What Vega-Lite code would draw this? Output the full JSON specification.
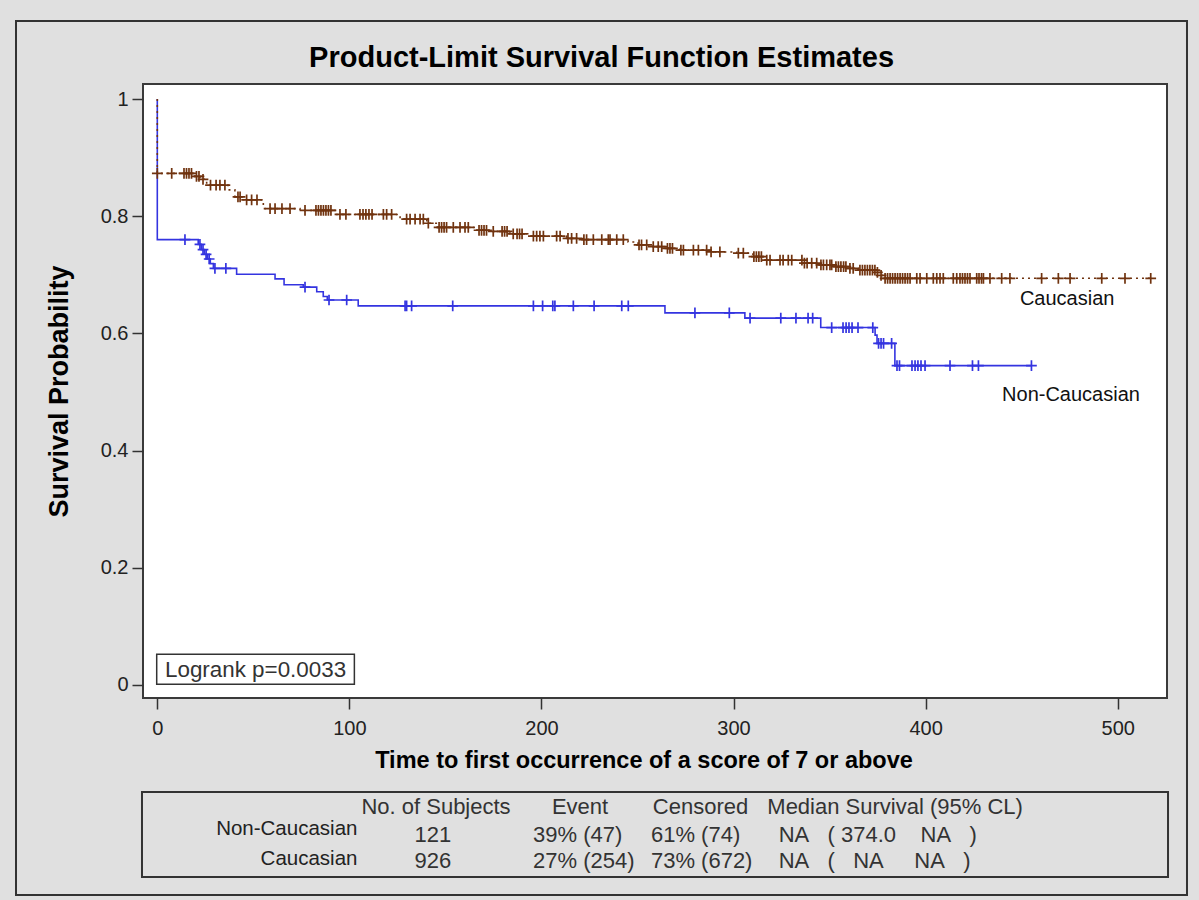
{
"$schema": "https://vega.github.io/schema/vega-lite/v6.json",
"width": 1024, "height": 614,
"autosize": {"type": "none"},
"padding": {"left": 143, "top": 84, "right": 32, "bottom": 202},
"background": "#e0e0e0",
"datasets": {
"curve": [
{"group":"Non-Caucasian","time":0,"survival":1.0},{"group":"Non-Caucasian","time":0,"survival":0.760},{"group":"Non-Caucasian","time":21.3,"survival":0.752},{"group":"Non-Caucasian","time":22.9,"survival":0.743},{"group":"Non-Caucasian","time":24.5,"survival":0.735},{"group":"Non-Caucasian","time":26.1,"survival":0.727},{"group":"Non-Caucasian","time":27.6,"survival":0.719},{"group":"Non-Caucasian","time":29.2,"survival":0.711},{"group":"Non-Caucasian","time":41.3,"survival":0.701},{"group":"Non-Caucasian","time":61.3,"survival":0.693},{"group":"Non-Caucasian","time":66.0,"survival":0.683},{"group":"Non-Caucasian","time":76.0,"survival":0.679},{"group":"Non-Caucasian","time":83.0,"survival":0.671},{"group":"Non-Caucasian","time":86.4,"survival":0.663},{"group":"Non-Caucasian","time":88.5,"survival":0.657},{"group":"Non-Caucasian","time":104.6,"survival":0.647},{"group":"Non-Caucasian","time":264.3,"survival":0.635},{"group":"Non-Caucasian","time":305.9,"survival":0.626},{"group":"Non-Caucasian","time":345.4,"survival":0.610},{"group":"Non-Caucasian","time":373.7,"survival":0.597},{"group":"Non-Caucasian","time":374.7,"survival":0.583},{"group":"Non-Caucasian","time":384.0,"survival":0.545},{"group":"Non-Caucasian","time":455.1,"survival":0.545},
{"group":"Caucasian","time":0,"survival":1.0},{"group":"Caucasian","time":0,"survival":0.873},{"group":"Caucasian","time":19.6,"survival":0.868},{"group":"Caucasian","time":22.2,"survival":0.863},{"group":"Caucasian","time":25.7,"survival":0.853},{"group":"Caucasian","time":36.8,"survival":0.845},{"group":"Caucasian","time":40.4,"survival":0.833},{"group":"Caucasian","time":43.9,"survival":0.828},{"group":"Caucasian","time":55.2,"survival":0.813},{"group":"Caucasian","time":74.3,"survival":0.810},{"group":"Caucasian","time":92.5,"survival":0.803},{"group":"Caucasian","time":126.4,"survival":0.795},{"group":"Caucasian","time":140.3,"survival":0.788},{"group":"Caucasian","time":146.1,"survival":0.781},{"group":"Caucasian","time":166.3,"survival":0.776},{"group":"Caucasian","time":174.8,"survival":0.774},{"group":"Caucasian","time":183.6,"survival":0.770},{"group":"Caucasian","time":194.0,"survival":0.766},{"group":"Caucasian","time":213.1,"survival":0.762},{"group":"Caucasian","time":221.6,"survival":0.760},{"group":"Caucasian","time":245.1,"survival":0.756},{"group":"Caucasian","time":250.3,"survival":0.751},{"group":"Caucasian","time":258.1,"survival":0.748},{"group":"Caucasian","time":265.2,"survival":0.745},{"group":"Caucasian","time":272.1,"survival":0.742},{"group":"Caucasian","time":287.8,"survival":0.739},{"group":"Caucasian","time":301.6,"survival":0.737},{"group":"Caucasian","time":310.1,"survival":0.731},{"group":"Caucasian","time":315.3,"survival":0.725},{"group":"Caucasian","time":336.2,"survival":0.720},{"group":"Caucasian","time":345.0,"survival":0.717},{"group":"Caucasian","time":352.8,"survival":0.714},{"group":"Caucasian","time":358.9,"survival":0.711},{"group":"Caucasian","time":364.9,"survival":0.708},{"group":"Caucasian","time":374.5,"survival":0.704},{"group":"Caucasian","time":376.3,"survival":0.699},{"group":"Caucasian","time":377.8,"survival":0.694},{"group":"Caucasian","time":517.2,"survival":0.694}
],
"censor": [
{"group":"Non-Caucasian","time":14.4,"survival":0.760},{"group":"Non-Caucasian","time":22.2,"survival":0.752},{"group":"Non-Caucasian","time":23.8,"survival":0.743},{"group":"Non-Caucasian","time":25.4,"survival":0.735},{"group":"Non-Caucasian","time":27.0,"survival":0.727},{"group":"Non-Caucasian","time":30.0,"survival":0.711},{"group":"Non-Caucasian","time":35.7,"survival":0.711},{"group":"Non-Caucasian","time":76.9,"survival":0.679},{"group":"Non-Caucasian","time":89.4,"survival":0.657},{"group":"Non-Caucasian","time":98.6,"survival":0.657},{"group":"Non-Caucasian","time":129.0,"survival":0.647},{"group":"Non-Caucasian","time":129.8,"survival":0.647},{"group":"Non-Caucasian","time":132.4,"survival":0.647},{"group":"Non-Caucasian","time":153.8,"survival":0.647},{"group":"Non-Caucasian","time":195.8,"survival":0.647},{"group":"Non-Caucasian","time":200.6,"survival":0.647},{"group":"Non-Caucasian","time":205.9,"survival":0.647},{"group":"Non-Caucasian","time":207.0,"survival":0.647},{"group":"Non-Caucasian","time":216.6,"survival":0.647},{"group":"Non-Caucasian","time":227.4,"survival":0.647},{"group":"Non-Caucasian","time":241.8,"survival":0.647},{"group":"Non-Caucasian","time":245.2,"survival":0.647},{"group":"Non-Caucasian","time":279.9,"survival":0.635},{"group":"Non-Caucasian","time":297.8,"survival":0.635},{"group":"Non-Caucasian","time":308.6,"survival":0.626},{"group":"Non-Caucasian","time":324.6,"survival":0.626},{"group":"Non-Caucasian","time":332.5,"survival":0.626},{"group":"Non-Caucasian","time":338.8,"survival":0.626},{"group":"Non-Caucasian","time":341.2,"survival":0.626},{"group":"Non-Caucasian","time":351.1,"survival":0.610},{"group":"Non-Caucasian","time":357.0,"survival":0.610},{"group":"Non-Caucasian","time":358.6,"survival":0.610},{"group":"Non-Caucasian","time":360.1,"survival":0.610},{"group":"Non-Caucasian","time":361.7,"survival":0.610},{"group":"Non-Caucasian","time":364.8,"survival":0.610},{"group":"Non-Caucasian","time":372.5,"survival":0.610},{"group":"Non-Caucasian","time":375.5,"survival":0.583},{"group":"Non-Caucasian","time":376.8,"survival":0.583},{"group":"Non-Caucasian","time":378.1,"survival":0.583},{"group":"Non-Caucasian","time":382.3,"survival":0.583},{"group":"Non-Caucasian","time":385.1,"survival":0.545},{"group":"Non-Caucasian","time":386.4,"survival":0.545},{"group":"Non-Caucasian","time":392.9,"survival":0.545},{"group":"Non-Caucasian","time":394.5,"survival":0.545},{"group":"Non-Caucasian","time":396.0,"survival":0.545},{"group":"Non-Caucasian","time":397.6,"survival":0.545},{"group":"Non-Caucasian","time":399.7,"survival":0.545},{"group":"Non-Caucasian","time":412.7,"survival":0.545},{"group":"Non-Caucasian","time":424.4,"survival":0.545},{"group":"Non-Caucasian","time":427.5,"survival":0.545},{"group":"Non-Caucasian","time":455.1,"survival":0.545},
{"group":"Caucasian","time":0,"survival":0.873},{"group":"Caucasian","time":7.5,"survival":0.873},{"group":"Caucasian","time":13.9,"survival":0.873},{"group":"Caucasian","time":15.2,"survival":0.873},{"group":"Caucasian","time":16.5,"survival":0.873},{"group":"Caucasian","time":17.8,"survival":0.873},{"group":"Caucasian","time":20.4,"survival":0.868},{"group":"Caucasian","time":21.7,"survival":0.868},{"group":"Caucasian","time":23.8,"survival":0.863},{"group":"Caucasian","time":27.7,"survival":0.853},{"group":"Caucasian","time":30.6,"survival":0.853},{"group":"Caucasian","time":32.6,"survival":0.853},{"group":"Caucasian","time":35.2,"survival":0.853},{"group":"Caucasian","time":42.0,"survival":0.833},{"group":"Caucasian","time":43.1,"survival":0.833},{"group":"Caucasian","time":46.5,"survival":0.828},{"group":"Caucasian","time":49.1,"survival":0.828},{"group":"Caucasian","time":51.9,"survival":0.828},{"group":"Caucasian","time":58.7,"survival":0.813},{"group":"Caucasian","time":61.3,"survival":0.813},{"group":"Caucasian","time":64.9,"survival":0.813},{"group":"Caucasian","time":69.1,"survival":0.813},{"group":"Caucasian","time":76.9,"survival":0.810},{"group":"Caucasian","time":82.6,"survival":0.810},{"group":"Caucasian","time":83.9,"survival":0.810},{"group":"Caucasian","time":85.2,"survival":0.810},{"group":"Caucasian","time":86.5,"survival":0.810},{"group":"Caucasian","time":87.8,"survival":0.810},{"group":"Caucasian","time":89.1,"survival":0.810},{"group":"Caucasian","time":90.4,"survival":0.810},{"group":"Caucasian","time":95.1,"survival":0.803},{"group":"Caucasian","time":98.2,"survival":0.803},{"group":"Caucasian","time":105.5,"survival":0.803},{"group":"Caucasian","time":107.1,"survival":0.803},{"group":"Caucasian","time":108.6,"survival":0.803},{"group":"Caucasian","time":110.2,"survival":0.803},{"group":"Caucasian","time":111.8,"survival":0.803},{"group":"Caucasian","time":117.7,"survival":0.803},{"group":"Caucasian","time":119.4,"survival":0.803},{"group":"Caucasian","time":122.0,"survival":0.803},{"group":"Caucasian","time":129.8,"survival":0.795},{"group":"Caucasian","time":131.6,"survival":0.795},{"group":"Caucasian","time":134.2,"survival":0.795},{"group":"Caucasian","time":136.8,"survival":0.795},{"group":"Caucasian","time":138.5,"survival":0.795},{"group":"Caucasian","time":141.1,"survival":0.788},{"group":"Caucasian","time":146.7,"survival":0.781},{"group":"Caucasian","time":148.0,"survival":0.781},{"group":"Caucasian","time":149.3,"survival":0.781},{"group":"Caucasian","time":150.6,"survival":0.781},{"group":"Caucasian","time":154.1,"survival":0.781},{"group":"Caucasian","time":157.6,"survival":0.781},{"group":"Caucasian","time":160.2,"survival":0.781},{"group":"Caucasian","time":161.9,"survival":0.781},{"group":"Caucasian","time":167.5,"survival":0.776},{"group":"Caucasian","time":168.8,"survival":0.776},{"group":"Caucasian","time":170.1,"survival":0.776},{"group":"Caucasian","time":171.4,"survival":0.776},{"group":"Caucasian","time":174.9,"survival":0.774},{"group":"Caucasian","time":179.5,"survival":0.774},{"group":"Caucasian","time":180.8,"survival":0.774},{"group":"Caucasian","time":182.1,"survival":0.774},{"group":"Caucasian","time":185.3,"survival":0.770},{"group":"Caucasian","time":187.3,"survival":0.770},{"group":"Caucasian","time":188.6,"survival":0.770},{"group":"Caucasian","time":189.9,"survival":0.770},{"group":"Caucasian","time":195.8,"survival":0.766},{"group":"Caucasian","time":197.5,"survival":0.766},{"group":"Caucasian","time":199.2,"survival":0.766},{"group":"Caucasian","time":201.0,"survival":0.766},{"group":"Caucasian","time":207.9,"survival":0.766},{"group":"Caucasian","time":209.7,"survival":0.766},{"group":"Caucasian","time":213.8,"survival":0.762},{"group":"Caucasian","time":215.7,"survival":0.762},{"group":"Caucasian","time":218.3,"survival":0.762},{"group":"Caucasian","time":222.1,"survival":0.760},{"group":"Caucasian","time":223.5,"survival":0.760},{"group":"Caucasian","time":227.0,"survival":0.760},{"group":"Caucasian","time":231.4,"survival":0.760},{"group":"Caucasian","time":234.8,"survival":0.760},{"group":"Caucasian","time":235.7,"survival":0.760},{"group":"Caucasian","time":239.2,"survival":0.760},{"group":"Caucasian","time":242.6,"survival":0.760},{"group":"Caucasian","time":250.8,"survival":0.751},{"group":"Caucasian","time":252.1,"survival":0.751},{"group":"Caucasian","time":254.8,"survival":0.751},{"group":"Caucasian","time":258.2,"survival":0.748},{"group":"Caucasian","time":260.8,"survival":0.748},{"group":"Caucasian","time":262.6,"survival":0.748},{"group":"Caucasian","time":265.6,"survival":0.745},{"group":"Caucasian","time":266.9,"survival":0.745},{"group":"Caucasian","time":268.2,"survival":0.745},{"group":"Caucasian","time":272.6,"survival":0.742},{"group":"Caucasian","time":273.9,"survival":0.742},{"group":"Caucasian","time":279.1,"survival":0.742},{"group":"Caucasian","time":281.7,"survival":0.742},{"group":"Caucasian","time":286.0,"survival":0.742},{"group":"Caucasian","time":288.3,"survival":0.739},{"group":"Caucasian","time":292.9,"survival":0.739},{"group":"Caucasian","time":302.5,"survival":0.737},{"group":"Caucasian","time":305.1,"survival":0.737},{"group":"Caucasian","time":310.6,"survival":0.731},{"group":"Caucasian","time":311.9,"survival":0.731},{"group":"Caucasian","time":313.2,"survival":0.731},{"group":"Caucasian","time":314.5,"survival":0.731},{"group":"Caucasian","time":317.3,"survival":0.725},{"group":"Caucasian","time":319.0,"survival":0.725},{"group":"Caucasian","time":324.2,"survival":0.725},{"group":"Caucasian","time":325.8,"survival":0.725},{"group":"Caucasian","time":328.5,"survival":0.725},{"group":"Caucasian","time":330.3,"survival":0.725},{"group":"Caucasian","time":335.6,"survival":0.725},{"group":"Caucasian","time":336.9,"survival":0.720},{"group":"Caucasian","time":338.3,"survival":0.720},{"group":"Caucasian","time":340.7,"survival":0.720},{"group":"Caucasian","time":343.3,"survival":0.720},{"group":"Caucasian","time":345.5,"survival":0.717},{"group":"Caucasian","time":346.8,"survival":0.717},{"group":"Caucasian","time":348.5,"survival":0.717},{"group":"Caucasian","time":350.2,"survival":0.717},{"group":"Caucasian","time":351.1,"survival":0.717},{"group":"Caucasian","time":353.3,"survival":0.714},{"group":"Caucasian","time":354.6,"survival":0.714},{"group":"Caucasian","time":355.9,"survival":0.714},{"group":"Caucasian","time":357.3,"survival":0.714},{"group":"Caucasian","time":358.5,"survival":0.714},{"group":"Caucasian","time":360.6,"survival":0.711},{"group":"Caucasian","time":362.3,"survival":0.711},{"group":"Caucasian","time":365.8,"survival":0.708},{"group":"Caucasian","time":367.1,"survival":0.708},{"group":"Caucasian","time":368.4,"survival":0.708},{"group":"Caucasian","time":369.7,"survival":0.708},{"group":"Caucasian","time":371.0,"survival":0.708},{"group":"Caucasian","time":372.3,"survival":0.708},{"group":"Caucasian","time":373.6,"survival":0.708},{"group":"Caucasian","time":374.9,"survival":0.704},{"group":"Caucasian","time":376.8,"survival":0.699},{"group":"Caucasian","time":378.9,"survival":0.694},{"group":"Caucasian","time":380.2,"survival":0.694},{"group":"Caucasian","time":381.5,"survival":0.694},{"group":"Caucasian","time":382.8,"survival":0.694},{"group":"Caucasian","time":384.1,"survival":0.694},{"group":"Caucasian","time":385.4,"survival":0.694},{"group":"Caucasian","time":386.7,"survival":0.694},{"group":"Caucasian","time":388.0,"survival":0.694},{"group":"Caucasian","time":389.3,"survival":0.694},{"group":"Caucasian","time":390.6,"survival":0.694},{"group":"Caucasian","time":391.9,"survival":0.694},{"group":"Caucasian","time":395.4,"survival":0.694},{"group":"Caucasian","time":397.1,"survival":0.694},{"group":"Caucasian","time":400.6,"survival":0.694},{"group":"Caucasian","time":404.0,"survival":0.694},{"group":"Caucasian","time":405.8,"survival":0.694},{"group":"Caucasian","time":407.5,"survival":0.694},{"group":"Caucasian","time":409.2,"survival":0.694},{"group":"Caucasian","time":414.4,"survival":0.694},{"group":"Caucasian","time":416.2,"survival":0.694},{"group":"Caucasian","time":417.9,"survival":0.694},{"group":"Caucasian","time":419.2,"survival":0.694},{"group":"Caucasian","time":420.5,"survival":0.694},{"group":"Caucasian","time":421.8,"survival":0.694},{"group":"Caucasian","time":423.1,"survival":0.694},{"group":"Caucasian","time":426.6,"survival":0.694},{"group":"Caucasian","time":427.8,"survival":0.694},{"group":"Caucasian","time":429.1,"survival":0.694},{"group":"Caucasian","time":430.1,"survival":0.694},{"group":"Caucasian","time":433.5,"survival":0.694},{"group":"Caucasian","time":439.6,"survival":0.694},{"group":"Caucasian","time":443.9,"survival":0.694},{"group":"Caucasian","time":460.4,"survival":0.694},{"group":"Caucasian","time":469.1,"survival":0.694},{"group":"Caucasian","time":475.2,"survival":0.694},{"group":"Caucasian","time":491.7,"survival":0.694},{"group":"Caucasian","time":503.8,"survival":0.694},{"group":"Caucasian","time":517.2,"survival":0.694}
],
"table": [
{"row":"header","label":"","subjects":"No. of Subjects","event":"Event","censored":"Censored","median":"Median Survival (95% CL)"},
{"row":"Non-Caucasian","label":"Non-Caucasian","subjects":"121","event":"39% (47)","censored":"61% (74)","median":"NA\u00a0\u00a0\u00a0(\u00a0374.0\u00a0\u00a0\u00a0\u00a0NA\u00a0\u00a0\u00a0)"},
{"row":"Caucasian","label":"Caucasian","subjects":"926","event":"27% (254)","censored":"73% (672)","median":"NA\u00a0\u00a0\u00a0(\u00a0\u00a0\u00a0NA\u00a0\u00a0\u00a0\u00a0\u00a0NA\u00a0\u00a0\u00a0)"}
]
},
"layer": [
 {"data": {"name": "curve"}, "mark": {"type": "line", "interpolate": "step-after", "strokeWidth": 1.6},
  "encoding": {
   "x": {"field": "time", "type": "quantitative", "scale": {"domain": [-7.445, 525.67], "nice": false, "zero": false},
     "axis": {"values": [0, 100, 200, 300, 400, 500], "title": "Time to first occurrence of a score of 7 or above", "titleX": 500.5}},
   "y": {"field": "survival", "type": "quantitative", "scale": {"domain": [-0.0222, 1.0256], "nice": false, "zero": false},
     "axis": {"values": [0, 0.2, 0.4, 0.6, 0.8, 1], "format": "~g", "title": "Survival Probability"}},
   "color": {"field": "group", "type": "nominal", "scale": {"domain": ["Non-Caucasian", "Caucasian"], "range": ["#3434e0", "#70330f"]}, "legend": null},
   "strokeDash": {"field": "group", "type": "nominal", "scale": {"domain": ["Non-Caucasian", "Caucasian"], "range": [[1, 0], [2, 4]]}, "legend": null},
   "order": {"value": null}}},
 {"data": {"name": "censor"}, "mark": {"type": "point", "shape": "M-1,0L1,0M0,-1L0,1", "filled": false, "strokeWidth": 1.7, "size": 115, "opacity": 1},
  "encoding": {
   "x": {"field": "time", "type": "quantitative"},
   "y": {"field": "survival", "type": "quantitative"},
   "color": {"field": "group", "type": "nominal", "scale": {"domain": ["Non-Caucasian", "Caucasian"], "range": ["#3434e0", "#70330f"]}, "legend": null}}},
 {"data": {"values": [{}]}, "mark": {"type": "rect", "filled": false, "color": "#333", "strokeWidth": 2},
  "encoding": {"x": {"datum": -73.56, "type": "quantitative"}, "x2": {"datum": 536.08},
   "y": {"datum": 1.1331, "type": "quantitative"}, "y2": {"datum": -0.3584}}},
 {"data": {"values": [{}]}, "mark": {"type": "rect", "filled": false, "color": "#333", "strokeWidth": 2},
  "encoding": {"x": {"datum": -7.97, "type": "quantitative"}, "x2": {"datum": 526.2},
   "y": {"datum": -0.1826, "type": "quantitative"}, "y2": {"datum": -0.3276}}},
 {"data": {"values": [{"heading": "Product-Limit Survival Function Estimates"}]}, "mark": {"type": "text", "align": "center", "baseline": "alphabetic", "fontSize": 29, "fontWeight": "bold", "font": "Liberation Sans", "color": "#000"},
  "encoding": {"x": {"datum": 231.3, "type": "quantitative"}, "y": {"datum": 1.0546, "type": "quantitative"}, "text": {"field": "heading"}}},
 {"data": {"values": [{"group": "Caucasian"}]}, "mark": {"type": "text", "align": "left", "baseline": "middle", "fontSize": 20, "font": "Liberation Sans", "color": "#111"},
  "encoding": {"x": {"datum": 449.1, "type": "quantitative"}, "y": {"datum": 0.6587, "type": "quantitative"}, "text": {"field": "group"}}},
 {"data": {"values": [{"group": "Non-Caucasian"}]}, "mark": {"type": "text", "align": "left", "baseline": "middle", "fontSize": 20, "font": "Liberation Sans", "color": "#111"},
  "encoding": {"x": {"datum": 439.8, "type": "quantitative"}, "y": {"datum": 0.4949, "type": "quantitative"}, "text": {"field": "group"}}},
 {"data": {"values": [{}]}, "mark": {"type": "rect", "filled": false, "color": "#333", "strokeWidth": 1.5},
  "encoding": {"x": {"datum": -0.31, "type": "quantitative"}, "x2": {"datum": 102.6},
   "y": {"datum": 0.0524, "type": "quantitative"}, "y2": {"datum": 0.0012}}},
 {"data": {"values": [{"statistic": "Logrank p=0.0033"}]}, "mark": {"type": "text", "align": "left", "baseline": "middle", "fontSize": 22.4, "font": "Liberation Sans", "color": "#333"},
  "encoding": {"x": {"datum": 4.0, "type": "quantitative"}, "y": {"datum": 0.0256, "type": "quantitative"}, "text": {"field": "statistic"}}},
 {"data": {"name": "table"}, "transform": [{"filter": "datum.row === 'Non-Caucasian'"}], "mark": {"type": "text", "align": "right", "baseline": "middle", "fontSize": 20.5, "font": "Liberation Sans", "color": "#222"},
  "encoding": {"x": {"datum": 104.2, "type": "quantitative"}, "y": {"datum": -0.2457, "type": "quantitative"}, "text": {"field": "label"}}},
 {"data": {"name": "table"}, "transform": [{"filter": "datum.row === 'Caucasian'"}], "mark": {"type": "text", "align": "right", "baseline": "middle", "fontSize": 20.5, "font": "Liberation Sans", "color": "#222"},
  "encoding": {"x": {"datum": 104.2, "type": "quantitative"}, "y": {"datum": -0.2969, "type": "quantitative"}, "text": {"field": "label"}}},
 {"data": {"name": "table"}, "transform": [{"filter": "datum.row === 'header'"}], "mark": {"type": "text", "align": "center", "baseline": "middle", "fontSize": 22, "font": "Liberation Sans", "color": "#333"},
  "encoding": {"x": {"datum": 145.1, "type": "quantitative"}, "y": {"datum": -0.2082, "type": "quantitative"}, "text": {"field": "subjects"}}},
 {"data": {"name": "table"}, "transform": [{"filter": "datum.row === 'Non-Caucasian'"}], "mark": {"type": "text", "align": "center", "baseline": "middle", "fontSize": 22, "font": "Liberation Sans", "color": "#333"},
  "encoding": {"x": {"datum": 143.5, "type": "quantitative"}, "y": {"datum": -0.2560, "type": "quantitative"}, "text": {"field": "subjects"}}},
 {"data": {"name": "table"}, "transform": [{"filter": "datum.row === 'Caucasian'"}], "mark": {"type": "text", "align": "center", "baseline": "middle", "fontSize": 22, "font": "Liberation Sans", "color": "#333"},
  "encoding": {"x": {"datum": 143.5, "type": "quantitative"}, "y": {"datum": -0.3003, "type": "quantitative"}, "text": {"field": "subjects"}}},
 {"data": {"name": "table"}, "transform": [{"filter": "datum.row === 'header'"}], "mark": {"type": "text", "align": "center", "baseline": "middle", "fontSize": 22, "font": "Liberation Sans", "color": "#333"},
  "encoding": {"x": {"datum": 220.1, "type": "quantitative"}, "y": {"datum": -0.2082, "type": "quantitative"}, "text": {"field": "event"}}},
 {"data": {"name": "table"}, "transform": [{"filter": "datum.row === 'Non-Caucasian'"}], "mark": {"type": "text", "align": "left", "baseline": "middle", "fontSize": 22, "font": "Liberation Sans", "color": "#333"},
  "encoding": {"x": {"datum": 195.6, "type": "quantitative"}, "y": {"datum": -0.2560, "type": "quantitative"}, "text": {"field": "event"}}},
 {"data": {"name": "table"}, "transform": [{"filter": "datum.row === 'Caucasian'"}], "mark": {"type": "text", "align": "left", "baseline": "middle", "fontSize": 22, "font": "Liberation Sans", "color": "#333"},
  "encoding": {"x": {"datum": 195.6, "type": "quantitative"}, "y": {"datum": -0.3003, "type": "quantitative"}, "text": {"field": "event"}}},
 {"data": {"name": "table"}, "transform": [{"filter": "datum.row === 'header'"}], "mark": {"type": "text", "align": "center", "baseline": "middle", "fontSize": 22, "font": "Liberation Sans", "color": "#333"},
  "encoding": {"x": {"datum": 282.8, "type": "quantitative"}, "y": {"datum": -0.2082, "type": "quantitative"}, "text": {"field": "censored"}}},
 {"data": {"name": "table"}, "transform": [{"filter": "datum.row === 'Non-Caucasian'"}], "mark": {"type": "text", "align": "left", "baseline": "middle", "fontSize": 22, "font": "Liberation Sans", "color": "#333"},
  "encoding": {"x": {"datum": 257.0, "type": "quantitative"}, "y": {"datum": -0.2560, "type": "quantitative"}, "text": {"field": "censored"}}},
 {"data": {"name": "table"}, "transform": [{"filter": "datum.row === 'Caucasian'"}], "mark": {"type": "text", "align": "left", "baseline": "middle", "fontSize": 22, "font": "Liberation Sans", "color": "#333"},
  "encoding": {"x": {"datum": 257.0, "type": "quantitative"}, "y": {"datum": -0.3003, "type": "quantitative"}, "text": {"field": "censored"}}},
 {"data": {"name": "table"}, "transform": [{"filter": "datum.row === 'header'"}], "mark": {"type": "text", "align": "center", "baseline": "middle", "fontSize": 22, "font": "Liberation Sans", "color": "#333"},
  "encoding": {"x": {"datum": 384.1, "type": "quantitative"}, "y": {"datum": -0.2082, "type": "quantitative"}, "text": {"field": "median"}}},
 {"data": {"name": "table"}, "transform": [{"filter": "datum.row === 'Non-Caucasian'"}], "mark": {"type": "text", "align": "left", "baseline": "middle", "fontSize": 22, "font": "Liberation Sans", "color": "#333"},
  "encoding": {"x": {"datum": 323.5, "type": "quantitative"}, "y": {"datum": -0.2560, "type": "quantitative"}, "text": {"field": "median"}}},
 {"data": {"name": "table"}, "transform": [{"filter": "datum.row === 'Caucasian'"}], "mark": {"type": "text", "align": "left", "baseline": "middle", "fontSize": 22, "font": "Liberation Sans", "color": "#333"},
  "encoding": {"x": {"datum": 323.5, "type": "quantitative"}, "y": {"datum": -0.3003, "type": "quantitative"}, "text": {"field": "median"}}}
],
"config": {
 "view": {"fill": "white", "stroke": "#3a3a3a", "strokeWidth": 2},
 "font": "Liberation Sans",
 "axis": {"domain": false, "grid": false, "tickColor": "#333", "tickWidth": 1.5, "tickSize": 11, "labelFont": "Liberation Sans", "labelFontSize": 20, "labelColor": "#222", "labelFlush": false, "labelOverlap": false, "titleFont": "Liberation Sans", "titleFontWeight": "bold", "titleColor": "#000"},
 "axisX": {"labelPadding": 9, "titlePadding": 10, "titleFontSize": 23.5},
 "axisY": {"labelPadding": 4, "titlePadding": 27, "titleFontSize": 27}
}
}
